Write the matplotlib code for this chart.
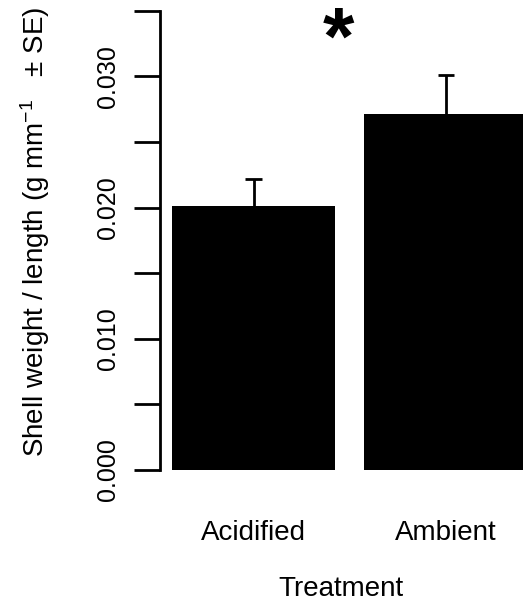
import numpy as np
import matplotlib
matplotlib.use("Agg")
import matplotlib.pyplot as plt

plt.rcParams['font.family'] = ['Liberation Sans', 'DejaVu Sans']
plt.rcParams['mathtext.default'] = 'regular'

# shell weight per unit length by treatment
treatments = ["Acidified", "Ambient"]
means = [0.0201, 0.0271]
se = [0.0021, 0.0030]
yticks = [0.000, 0.005, 0.010, 0.015, 0.020, 0.025, 0.030, 0.035]
ytick_labels = ["0.000", "", "0.010", "", "0.020", "", "0.030", ""]

W, H = 523, 606
fig = plt.figure(figsize=(W / 100, H / 100), dpi=100)
# plot region in pixels: x 160..523, y 5..470
ax = fig.add_axes([160 / W, 1 - 470 / H, (523 - 160) / W, (470 - 5) / H])

x = np.array([0.0, 1.18])
means = np.array(means)
se = np.array(se)
ax.bar(x, means, width=1.0, color="black", zorder=2)
# upper error bars only: stem plus cap
ax.vlines(x, means, means + se, color="black", linewidth=2, zorder=1)
ax.hlines(means + se, x - 0.05, x + 0.05, color="black", linewidth=2, zorder=1)

ax.set_xlim(-0.574, 1.653)
ax.set_ylim(0, 0.03544)

for side in ["top", "right", "bottom"]:
    ax.spines[side].set_visible(False)
ax.spines["left"].set_bounds(0, 0.035)
ax.spines["left"].set_linewidth(2)

ax.set_yticks(yticks)
ax.set_yticklabels(ytick_labels, rotation=90, va="center", fontsize=18)
ax.tick_params(axis="y", length=19, width=2, pad=10)

ax.set_xticks(x)
ax.set_xticklabels(treatments, fontsize=20)
ax.tick_params(axis="x", length=0, pad=36)

# significance marker above the pair
ax.text(0.52, 0.0326, "*", fontsize=58, fontweight="bold",
        ha="center", va="center")

fig.text(341 / W, 1 - 589 / H, "Treatment", fontsize=20,
         ha="center", va="center")
fig.text(35 / W, 1 - 232 / H, r"Shell weight / length (g mm$^{-1}$   ± SE)",
         fontsize=20, rotation=90, ha="center", va="center")

fig.savefig("out.png", dpi=100)
